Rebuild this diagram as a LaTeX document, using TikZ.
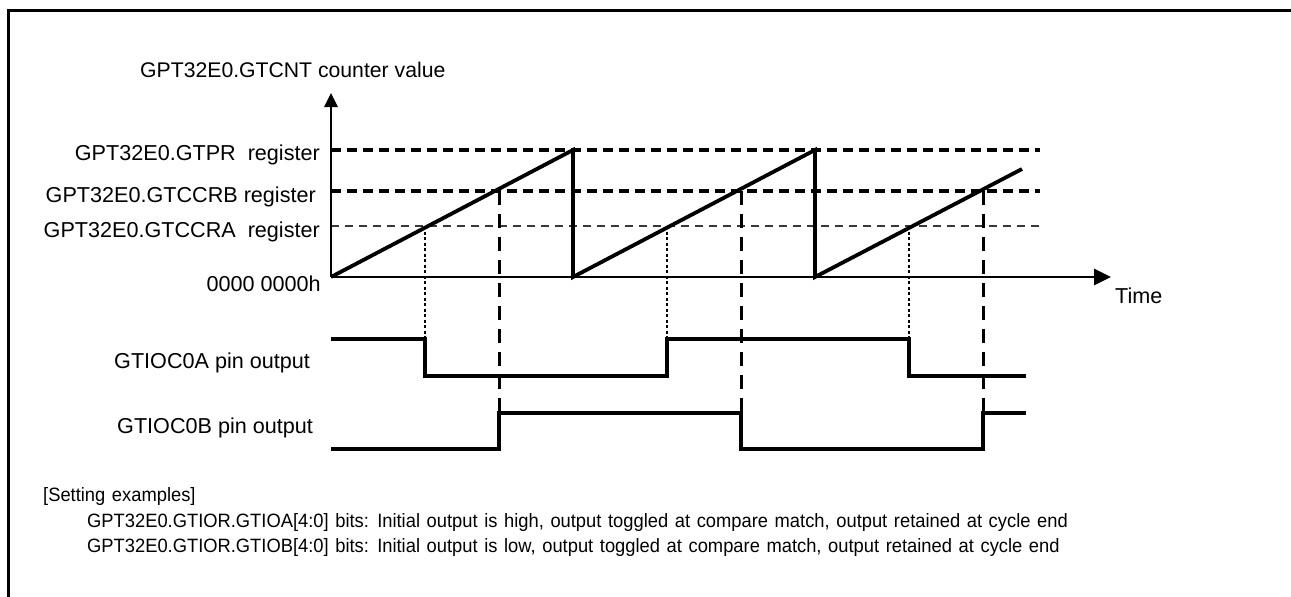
\documentclass[tikz,border=0pt]{standalone}
\usepackage{fontspec}
\setmainfont{Liberation Sans}
\newfontfamily\notefont{Liberation Sans}[FakeStretch=0.95, WordSpace=1.3]
\usetikzlibrary{arrows.meta}
\begin{document}
\begin{tikzpicture}[x=1pt,y=-1pt,
  lbl/.style={inner sep=0pt, font=\fontsize{21.6}{25}\selectfont},
  note/.style={inner sep=0pt, anchor=base west, font=\notefont\fontsize{19.3}{22}\selectfont},
  axis/.style={line width=2.8pt},
  ramp/.style={line width=3.8pt, line join=miter},
  wave/.style={line width=3.2pt, line join=miter},
  refhi/.style={line width=3.8pt, dash pattern=on 10pt off 6pt},
  reflo/.style={line width=2.8pt, dash pattern=on 8pt off 6pt, draw=black!78},
  vdot/.style={line width=2.6pt, dash pattern=on 3pt off 2.5pt},
  vdash/.style={line width=3pt, dash pattern=on 14pt off 9pt},
]
\useasboundingbox (0,0) rectangle (1291,597);
\fill[white] (0,0) rectangle (1291,597);
% frame
\coordinate (FB) at (8,600);
\coordinate (FR) at (1295,10);
\draw[line width=3pt] (FB) |- (FR);

% axes
\coordinate (O) at (331,277);
\coordinate (Ytop) at (331,93);
\coordinate (Xend) at (1111,277);

% reference levels
\coordinate (PRa) at (331,150);  \coordinate (PRb) at (1040,150);
\coordinate (CBa) at (331,191);  \coordinate (CBb) at (1040,191);
\coordinate (CAa) at (331,226);  \coordinate (CAb) at (1040,226);
\draw[refhi] (PRa) -- (PRb);
\draw[refhi] (CBa) -- (CBb);
\draw[reflo] (CAa) -- (CAb);

\draw[axis,-{Triangle[length=14pt,width=13pt]}] (O) -- (Ytop);
\draw[axis,-{Triangle[length=17pt,width=16pt]}] (O) -- (Xend);

% sawtooth
\coordinate (P1) at (573,150); \coordinate (Z1) at (573,277);
\coordinate (P2) at (815,150); \coordinate (Z2) at (815,277);
\coordinate (P3) at (1022,169);
\draw[ramp] (O) -- (P1) -- (Z1) -- (P2) -- (Z2) -- (P3);

% compare match points
\coordinate (A1) at (425,226); \coordinate (A2) at (667,226); \coordinate (A3) at (909,226);
\coordinate (B1) at (499,191); \coordinate (B2) at (741,191); \coordinate (B3) at (983,191);

% GTIOC0A waveform
\coordinate (WA0) at (331,339);
\coordinate (WA1h) at (425,339); \coordinate (WA1l) at (425,376);
\coordinate (WA2l) at (667,376); \coordinate (WA2h) at (667,339);
\coordinate (WA3h) at (909,339); \coordinate (WA3l) at (909,376);
\coordinate (WAe) at (1026,376);
\draw[wave] (WA0) -- (WA1h) -- (WA1l) -- (WA2l) -- (WA2h) -- (WA3h) -- (WA3l) -- (WAe);

% GTIOC0B waveform
\coordinate (WB0) at (331,449);
\coordinate (WB1l) at (499,449); \coordinate (WB1h) at (499,413);
\coordinate (WB2h) at (741,413); \coordinate (WB2l) at (741,449);
\coordinate (WB3l) at (983,449); \coordinate (WB3h) at (983,413);
\coordinate (WBe) at (1026,413);
\draw[wave] (WB0) -- (WB1l) -- (WB1h) -- (WB2h) -- (WB2l) -- (WB3l) -- (WB3h) -- (WBe);

% vertical guides
\draw[vdot] (A1) -- (WA1h);
\draw[vdot] (A2) -- (WA2h);
\draw[vdot] (A3) -- (WA3h);
\draw[vdash] (B1) -- (WB1h);
\draw[vdash] (B2) -- (WB2h);
\draw[vdash] (B3) -- (WB3h);

% labels
\node[lbl, anchor=base west, font=\fontsize{21.2}{25}\selectfont] (title) at (140,77) {GPT32E0.GTCNT counter value};
\node[lbl, anchor=base east] (lpr) at (320,160) {GPT32E0.GTPR\ \ register};
\node[lbl, anchor=base east] (lcb) at (316,202) {GPT32E0.GTCCRB register};
\node[lbl, anchor=base east] (lca) at (320,237) {GPT32E0.GTCCRA\ \ register};
\node[lbl, anchor=base east] (lzero) at (321,291) {0000 0000h};
\node[lbl, anchor=base west] (ltime) at (1115,303) {Time};
\node[lbl, anchor=base west] (la) at (114,368) {GTIOC0A pin output};
\node[lbl, anchor=base west] (lb) at (117,433) {GTIOC0B pin output};

\node[note] (n0) at (43,501) {[Setting examples]};
\node[note] (n1) at (87,527) {GPT32E0.GTIOR.GTIOA[4:0] bits: Initial output is high, output toggled at compare match, output retained at cycle end};
\node[note] (n2) at (87,552) {GPT32E0.GTIOR.GTIOB[4:0] bits: Initial output is low, output toggled at compare match, output retained at cycle end};
\end{tikzpicture}
\end{document}
